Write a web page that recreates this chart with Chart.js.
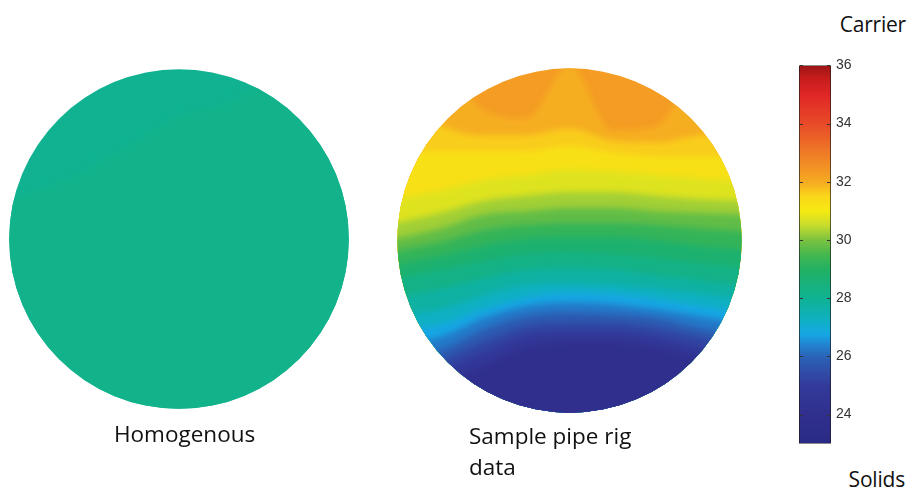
<!DOCTYPE html>
<html><head><meta charset="utf-8">
<script src="https://cdn.jsdelivr.net/npm/chart.js@4.4.1/dist/chart.umd.min.js"></script>
<style>
html,body{margin:0;padding:0;background:#fff;width:908px;height:492px;overflow:hidden;position:relative;font-family:'Open Sans',sans-serif;}
.box{position:absolute;}
.lbl{position:absolute;font-size:22.5px;line-height:31px;color:#111;white-space:nowrap;}
.side{position:absolute;font-size:21px;line-height:31px;color:#111;white-space:nowrap;right:2px;letter-spacing:-0.2px;}
</style></head><body>
<div class="box" style="left:-1px;top:59px;width:360px;height:360px"><canvas id="homo"></canvas></div>
<div class="box" style="left:387px;top:58px;width:365px;height:365px"><canvas id="sample"></canvas></div>
<div class="box" style="left:799px;top:52px;width:70px;height:405px"><canvas id="bar"></canvas></div>
<div class="lbl" style="left:114px;top:418px">Homogenous</div>
<div class="lbl" style="left:469px;top:420px">Sample pipe rig<br>data</div>
<div class="side" style="top:9px">Carrier</div>
<div class="side" style="top:464px;right:3px">Solids</div>
<script>
// ---- data ----
const xPositions = [-1.06, -0.75, -0.5, -0.25, 0, 0.25, 0.5, 0.75, 1.06];   // across pipe (normalised, wall at ends)
const tickValues = [24, 26, 28, 30, 32, 34, 36];
const scaleMin = 23, scaleMax = 36;
const axisLimit = 1.06;

// Homogenous: nearly uniform field, faint patch near top-left
const homoPatch = [0.23, 0.32, 0.44, 0.58, 0.73, 0.79, 0.94, 1.10, 1.30];
const homogenousBands = [28.15, 28.03];   // value below patch line, value above

// Sample pipe rig: iso-lines (height in pipe, normalised) for each level
const sampleLevels = [24.5, 25, 25.5, 26, 26.5, 27, 27.5, 28, 28.5, 29, 29.5, 30, 30.5, 31, 31.5, 32, 32.5];
const iso245 = [-0.93, -0.83, -0.73, -0.62, -0.59, -0.59, -0.62, -0.68, -0.74];
const iso250 = [-0.84, -0.76, -0.65, -0.55, -0.53, -0.53, -0.56, -0.62, -0.67];
const iso255 = [-0.77, -0.70, -0.59, -0.50, -0.48, -0.48, -0.51, -0.56, -0.62];
const iso260 = [-0.70, -0.64, -0.52, -0.44, -0.42, -0.43, -0.45, -0.51, -0.56];
const iso265 = [-0.61, -0.56, -0.45, -0.38, -0.36, -0.37, -0.40, -0.44, -0.49];
const iso270 = [-0.52, -0.49, -0.40, -0.33, -0.30, -0.31, -0.34, -0.38, -0.42];
const iso275 = [-0.44, -0.40, -0.32, -0.26, -0.25, -0.26, -0.28, -0.31, -0.35];
const iso280 = [-0.34, -0.28, -0.22, -0.17, -0.16, -0.17, -0.20, -0.23, -0.27];
const iso285 = [-0.23, -0.17, -0.12, -0.08, -0.07, -0.08, -0.10, -0.13, -0.16];
const iso290 = [-0.15, -0.09, -0.03, 0.01, 0.02, 0.02, 0.00, -0.03, -0.06];
const iso295 = [-0.07, -0.01, 0.06, 0.09, 0.10, 0.10, 0.09, 0.07, 0.05];
const iso300 = [0.00, 0.07, 0.15, 0.17, 0.19, 0.19, 0.17, 0.16, 0.15];
const iso305 = [0.09, 0.16, 0.23, 0.26, 0.28, 0.28, 0.26, 0.24, 0.23];
const iso310 = [0.23, 0.29, 0.35, 0.38, 0.41, 0.40, 0.38, 0.36, 0.34];
const iso315 = [0.52, 0.52, 0.52, 0.52, 0.55, 0.51, 0.49, 0.49, 0.49];
const iso320 = [0.87, 0.67, 0.61, 0.61, 0.65, 0.58, 0.57, 0.61, 0.64];
const iso325 = [1.28, 1.05, 0.76, 0.71, 1.02, 0.64, 0.66, 1.05, 1.28];
// value of each band (below each iso-line, then above the last)
const sampleBands = [24.0, 24.75, 25.25, 25.75, 26.25, 26.75, 27.25, 27.75, 28.25, 28.75,
                     29.25, 29.75, 30.25, 30.75, 31.25, 31.6, 31.95, 32.3];

// ---- colour map (style) ----
const colorStops = [[23,'#2a2a86'],[24,'#302f8e'],[25,'#333a9a'],[25.5,'#2f4ea8'],[26,'#2a64b8'],
  [26.4,'#2184d0'],[26.75,'#16a6e4'],[27.2,'#0fb0c6'],[28,'#0fb292'],[29,'#22b163'],[29.5,'#45b74e'],
  [30,'#7cc240'],[30.5,'#c6dc2c'],[31,'#f6ea12'],[31.5,'#fad61a'],[32,'#f6aa22'],[33,'#ef7a26'],
  [34,'#e84a28'],[35,'#e02626'],[35.6,'#c41c1c'],[36,'#9a1414']];
function hexRgb(h){return [parseInt(h.slice(1,3),16),parseInt(h.slice(3,5),16),parseInt(h.slice(5,7),16)];}
function colorFor(v){
  if (v <= colorStops[0][0]) return colorStops[0][1];
  for (let i=0;i<colorStops.length-1;i++){
    const [a,ca]=colorStops[i],[b,cb]=colorStops[i+1];
    if (v>=a && v<=b){
      const t=(v-a)/(b-a), A=hexRgb(ca), B=hexRgb(cb);
      return 'rgb('+A.map((c,k)=>Math.round(c+(B[k]-c)*t)).join(',')+')';
    }
  }
  return colorStops[colorStops.length-1][1];
}

const circleClip = {
  id:'circleClip',
  beforeDatasetsDraw(chart){
    const {ctx, scales:{x,y}} = chart;
    const cx=x.getPixelForValue(0), cy=y.getPixelForValue(0);
    const r=Math.min(x.getPixelForValue(1)-cx, cy-y.getPixelForValue(1));
    ctx.save(); ctx.beginPath(); ctx.arc(cx,cy,r,0,Math.PI*2); ctx.clip();
    ctx.filter='blur(3px)';
  },
  afterDatasetsDraw(chart){ chart.ctx.restore(); }
};

function pipeChart(id, contours, bands){
  const base = { borderColor:'rgba(0,0,0,0)', borderWidth:0, pointRadius:0, cubicInterpolationMode:'monotone' };
  const datasets = contours.map((ys,i)=>({ ...base,
    data: xPositions.map((x,j)=>({x, y: ys[j]})), fill:'start', backgroundColor: colorFor(bands[i]) }));
  // underlying layer: whole section at the value above the highest iso-line
  datasets.push({ ...base, data: xPositions.map(x=>({x, y: -axisLimit})), fill:'end',
    backgroundColor: colorFor(bands[bands.length-1]) });
  return new Chart(document.getElementById(id), {
    type:'line',
    data:{datasets},
    options:{
      responsive:true, maintainAspectRatio:false, animation:false,
      layout:{padding:0},
      plugins:{legend:{display:false}, tooltip:{enabled:false}},
      scales:{
        x:{type:'linear', min:-axisLimit, max:axisLimit, display:false},
        y:{type:'linear', min:-axisLimit, max:axisLimit, display:false}
      }
    },
    plugins:[circleClip]
  });
}

pipeChart('homo', [homoPatch], homogenousBands);
pipeChart('sample', [iso245, iso250, iso255, iso260, iso265, iso270, iso275, iso280, iso285,
  iso290, iso295, iso300, iso305, iso310, iso315, iso320, iso325], sampleBands);

const tickMarks = {
  id:'tickMarks',
  afterDatasetsDraw(chart){
    const {ctx, chartArea:a, scales:{y}} = chart;
    ctx.save(); ctx.strokeStyle='#333'; ctx.lineWidth=1;
    tickValues.forEach(v=>{
      const py=Math.round(y.getPixelForValue(v))+0.5;
      ctx.beginPath(); ctx.moveTo(a.left+1,py); ctx.lineTo(a.left+4,py);
      ctx.moveTo(a.right-1,py); ctx.lineTo(a.right-4,py); ctx.stroke();
    });
    ctx.restore();
  }
};

new Chart(document.getElementById('bar'), {
  type:'bar',
  data:{labels:['scale'], datasets:[{
    data:[[scaleMin, scaleMax]],
    backgroundColor:(c)=>{
      const ch=c.chart; if(!ch.chartArea) return null;
      const y=ch.scales.y;
      const g=ch.ctx.createLinearGradient(0,y.getPixelForValue(scaleMax),0,y.getPixelForValue(scaleMin));
      colorStops.forEach(([v,col])=>g.addColorStop((scaleMax-v)/(scaleMax-scaleMin),col));
      return g;
    },
    borderColor:'#1a1a1a', borderWidth:1, borderSkipped:false,
    barPercentage:1, categoryPercentage:1
  }]},
  options:{
    responsive:true, maintainAspectRatio:false, animation:false,
    layout:{padding:{top:10,bottom:11,left:0,right:0}},
    plugins:{legend:{display:false}, tooltip:{enabled:false}},
    scales:{
      x:{display:false},
      y:{position:'right', min:scaleMin, max:scaleMax,
         afterBuildTicks:(s)=>{ s.ticks = tickValues.map(v=>({value:v})); },
         afterFit:(s)=>{ s.width = 38; },
         grid:{display:false, drawTicks:false}, border:{display:false},
         ticks:{padding:5, color:'#333', font:{family:'Liberation Sans', size:14}}}
    }
  },
  plugins:[tickMarks]
});
</script>
</body></html>
